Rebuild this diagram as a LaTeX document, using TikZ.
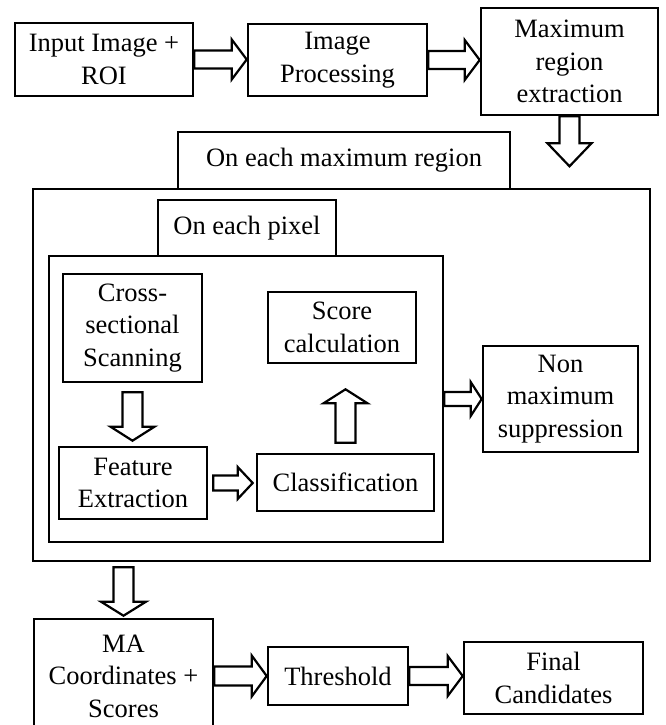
\documentclass[tikz,border=0pt]{standalone}
\usepackage{fontspec}
\setmainfont{Liberation Serif}
\usetikzlibrary{calc}

\tikzset{
  box/.style={draw, line width=2.6pt, inner sep=0pt, align=center,
    font=\fontsize{26.5}{32.5}\selectfont},
  shaftw/.store in=\shaftw, headw/.store in=\headw, headl/.store in=\headl,
  gapa/.store in=\gapa, gapb/.store in=\gapb, dirv/.store in=\dirv,
  fat/.style={draw, line width=2.2pt, line join=miter,
    shaftw=9, headw=20, headl=15, gapa=0, gapb=0, dirv=1},
  % hollow arrow pointing right
  fatr/.style={fat, to path={
    ($(\tikztostart)+({\gapa},{-\shaftw})$)
    -- ($(\tikztostart-|\tikztotarget)+({0-\gapb-\headl},{-\shaftw})$)
    -- ($(\tikztostart-|\tikztotarget)+({0-\gapb-\headl},{-\headw})$)
    -- ($(\tikztostart-|\tikztotarget)+({0-\gapb},0)$)
    -- ($(\tikztostart-|\tikztotarget)+({0-\gapb-\headl},{\headw})$)
    -- ($(\tikztostart-|\tikztotarget)+({0-\gapb-\headl},{\shaftw})$)
    -- ($(\tikztostart)+({\gapa},{\shaftw})$) -- cycle}},
  % hollow arrow pointing down (dirv=1) or up (dirv=-1)
  fatv/.style={fat, to path={
    ($(\tikztostart)+({-\shaftw},{\dirv*\gapa})$)
    -- ($(\tikztostart|-\tikztotarget)+({-\shaftw},{\dirv*(0-\gapb-\headl)})$)
    -- ($(\tikztostart|-\tikztotarget)+({-\headw},{\dirv*(0-\gapb-\headl)})$)
    -- ($(\tikztostart|-\tikztotarget)+(0,{\dirv*(0-\gapb)})$)
    -- ($(\tikztostart|-\tikztotarget)+({\headw},{\dirv*(0-\gapb-\headl)})$)
    -- ($(\tikztostart|-\tikztotarget)+({\shaftw},{\dirv*(0-\gapb-\headl)})$)
    -- ($(\tikztostart)+({\shaftw},{\dirv*\gapa})$) -- cycle}},
}

\begin{document}
\begin{tikzpicture}[x=1pt, y=-1pt]
  \clip (0,0) rectangle (665,725);
  % top row
  \node[box, minimum width=178pt, minimum height=73pt] (in) at (104,59.5) {Input Image +\\ROI};
  \node[box, minimum width=179pt, minimum height=72pt] (proc) at (337.5,60) {Image\\Processing};
  \node[box, minimum width=177pt, minimum height=107pt] (max) at (569.5,61.5) {Maximum\\region\\extraction};
  \draw[fatr] (in.east) to (proc.west);
  \draw[fatr] (proc.east) to (max.west);
  \coordinate (maxend) at ($(max.south)+(0,50)$);
  \draw[fatv, shaftw=10, headw=22, headl=23] (max.south) to (maxend);

  % loop over the regions
  \node[box, minimum width=617pt, minimum height=372pt] (outer) at (341.5,375) {};
  \node[box, minimum width=332pt, minimum height=57pt] (regl) at (344,160.5) {On each maximum region};
  % loop over the pixels
  \node[box, minimum width=394pt, minimum height=286pt] (inner) at (246,399) {};
  \node[box, minimum width=178pt, minimum height=56pt] (pixl) at (247,228) {On each pixel};
  \node[box, minimum width=139pt, minimum height=108pt] (cross) at (132.5,328) {Cross-\\sectional\\Scanning};
  \node[box, minimum width=148pt, minimum height=71pt] (score) at (342,327.5) {Score\\calculation};
  \node[box, minimum width=148pt, minimum height=72pt] (feat) at (133,483) {Feature\\Extraction};
  \node[box, minimum width=177pt, minimum height=57pt] (class) at (345.5,482.5) {Classification};
  \draw[fatv, shaftw=10, headw=22, headl=14, gapa=9, gapb=5] (cross.south) to (feat.north);
  \draw[fatr, shaftw=7.5, headw=16, headl=15, gapa=5, gapb=3] (feat.east) to (class.west);
  \draw[fatv, dirv=-1, shaftw=10, headw=22, headl=14, gapa=10, gapb=25] (class.north) to (score.south);

  \node[box, minimum width=155pt, minimum height=106pt] (nonmax) at (560.5,399) {Non\\maximum\\suppression};
  \draw[fatr, shaftw=7, headw=17, headl=11] (inner.east) to (nonmax.west);

  % bottom row
  \node[box, minimum width=179pt, minimum height=114pt] (ma) at (123.5,676) {MA\\Coordinates +\\Scores};
  \node[box, minimum width=140pt, minimum height=58pt] (thr) at (338,676) {Threshold};
  \node[box, minimum width=179pt, minimum height=72pt] (fin) at (553.5,678) {Final\\Candidates};
  \coordinate (obot) at (outer.south -| ma.north);
  \draw[fatv, shaftw=10, headw=22.5, headl=14, gapa=5, gapb=2] (obot) to (ma.north);
  \draw[fatr, shaftw=9.5, headw=20.5] (ma.east) to (thr.west);
  \draw[fatr] (thr.east) to (fin.west);
\end{tikzpicture}
\end{document}
